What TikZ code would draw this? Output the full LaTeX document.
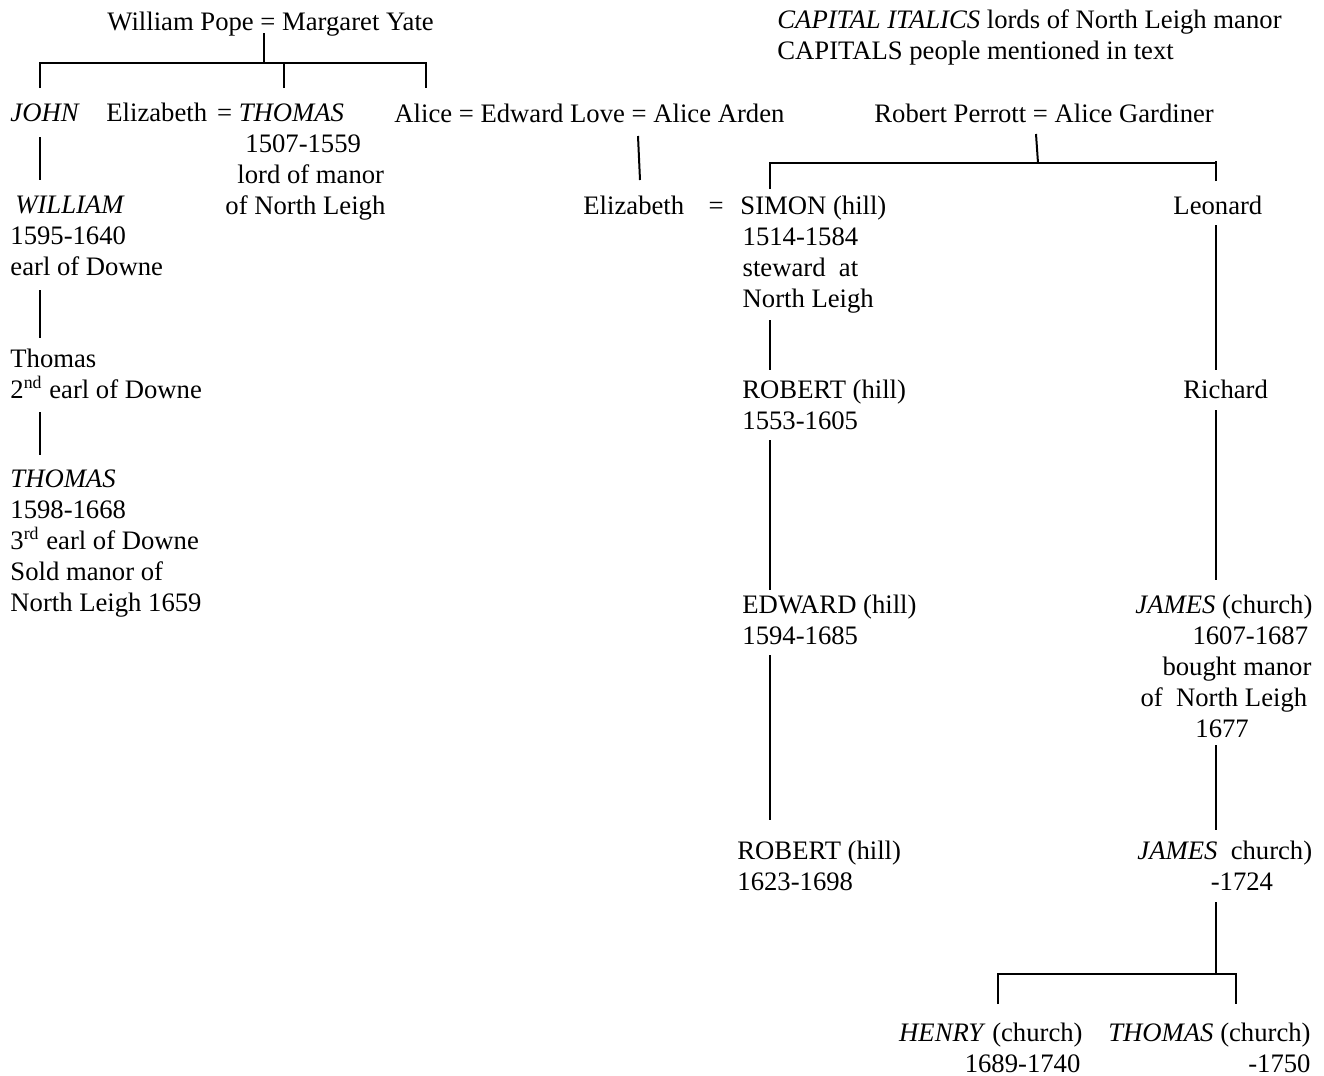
\documentclass[tikz,border=0pt]{standalone}
\usepackage{fontspec}
\setmainfont{Liberation Serif}
\usetikzlibrary{positioning}

\tikzset{
  person/.style={inner sep=0pt, anchor=base west, align=left,
    font=\fontsize{12}{13.95}\selectfont},
  personr/.style={person, anchor=base east, align=right},
  link/.style={line width=0.9pt},
}

\begin{document}
\begin{tikzpicture}[x=0.45pt, y=-0.45pt]
\useasboundingbox (0,0) rectangle (1324,1075);

% key (multi-line nodes sit on their last baseline)
\node[person] (key) at (777,59) {\textit{CAPITAL ITALICS} lords of North Leigh manor\\CAPITALS people mentioned in text};

% Pope family
\node[person] (pope) at (107,30) {William Pope = Margaret Yate};
\node[person] (john) at (10,121) {\textit{JOHN}};
\node[person] (thomas) at (106,121) {Elizabeth\hspace{4.5pt}= \textit{THOMAS}};
\node[person] (thomasinfo) at (225,214) {\hspace*{9pt}1507-1559\\\hspace*{5.4pt}lord of manor\\of North Leigh};
\node[person] (love) at (394,122) {Alice = Edward Love = Alice Arden};

\node[person] (william) at (10,275) {\hspace*{2.2pt}\textit{WILLIAM}\\1595-1640\\earl of Downe};
\node[person] (thomasb) at (10,398) {Thomas\\2\textsuperscript{nd} earl of Downe};
\node[person] (thomasc) at (10,611) {\textit{THOMAS}\\1598-1668\\3\textsuperscript{rd} earl of Downe\\Sold manor of\\North Leigh 1659};

% Perrott family
\node[person] (perrott) at (874,122) {Robert Perrott = Alice Gardiner};
\node[person] (eliz) at (583,214) {Elizabeth\hspace{11pt}=};
\node[person] (simon) at (740,307) {SIMON (hill)\\\hspace*{1pt}1514-1584\\\hspace*{1pt}steward\ \ at\\\hspace*{1pt}North Leigh};
\node[person] (roberta) at (742,429) {ROBERT (hill)\\1553-1605};
\node[person] (edward) at (742,644) {EDWARD (hill)\\1594-1685};
\node[person] (robertb) at (737,890) {ROBERT (hill)\\1623-1698};

\node[person] (leonard) at (1173,214) {Leonard};
\node[person] (richard) at (1183,398) {Richard};
\node[person] (jamesa) at (1135,737) {\textit{JAMES} (church)\\\hspace*{25.7pt}1607-1687\\\hspace*{12.2pt}bought manor\\\hspace*{2.3pt}of\ \ North Leigh\\\hspace*{27pt}1677};
\node[person] (jamesb) at (1137,890) {\textit{JAMES}\ \ church)\\\hspace*{33pt}-1724};
\node[personr] (henry) at (1083,1072) {\textit{HENRY} (church)\\1689-1740\hspace*{1pt}};
\node[personr] (thomasd) at (1311,1072) {\textit{THOMAS} (church)\\-1750};

% line ends
\coordinate (popeeq) at (264,33);
\coordinate (popebar) at (264,63);
\coordinate (johntop) at (40,88);
\coordinate (thomastop) at (284,88);
\coordinate (alicetop) at (426,88);
\coordinate (loveeq) at (638,136);
\coordinate (elizeq) at (640,180);
\coordinate (perrotteq) at (1036,134);
\coordinate (perrottbar) at (1038,163);
\coordinate (simontop) at (770,189);
\coordinate (leonardtop) at (1216,181);
\coordinate (johnbot) at (40,137);
\coordinate (williamtop) at (40,180);
\coordinate (williambot) at (40,290);
\coordinate (thomasbtop) at (40,338);
\coordinate (thomasbbot) at (40,412);
\coordinate (thomasctop) at (40,455);
\coordinate (simonbot) at (770,320);
\coordinate (robertatop) at (770,370);
\coordinate (robertabot) at (770,440);
\coordinate (edwardtop) at (770,590);
\coordinate (edwardbot) at (770,655);
\coordinate (robertbtop) at (770,820);
\coordinate (leonardbot) at (1216,225);
\coordinate (richardtop) at (1216,370);
\coordinate (richardbot) at (1216,410);
\coordinate (jamesatop) at (1216,580);
\coordinate (jamesabot) at (1216,745);
\coordinate (jamesbtop) at (1216,830);
\coordinate (jamesbbot) at (1216,902);
\coordinate (jamesbbar) at (1216,974);
\coordinate (henrytop) at (998,1004);
\coordinate (thomasdtop) at (1236,1004);

% Pope lines
\draw[link] (popeeq) -- (popebar);
\draw[link] (johntop) |- (popebar) -| (alicetop);
\draw[link] (thomastop) -- (thomastop |- popebar);
\draw[link] (johnbot) -- (williamtop);
\draw[link] (williambot) -- (thomasbtop);
\draw[link] (thomasbbot) -- (thomasctop);
\draw[link] (loveeq) -- (elizeq);

% Perrott lines
\draw[link] (perrotteq) -- (perrottbar);
\draw[link] (simontop) |- (perrottbar) -| (leonardtop);
\draw[link] (leonardtop) -- ++(0,-20);
\draw[link] (simonbot) -- (robertatop);
\draw[link] (robertabot) -- (edwardtop);
\draw[link] (edwardbot) -- (robertbtop);
\draw[link] (leonardbot) -- (richardtop);
\draw[link] (richardbot) -- (jamesatop);
\draw[link] (jamesabot) -- (jamesbtop);
\draw[link] (jamesbbot) -- (jamesbbar);
\draw[link] (henrytop) |- (jamesbbar) -| (thomasdtop);
\end{tikzpicture}
\end{document}
